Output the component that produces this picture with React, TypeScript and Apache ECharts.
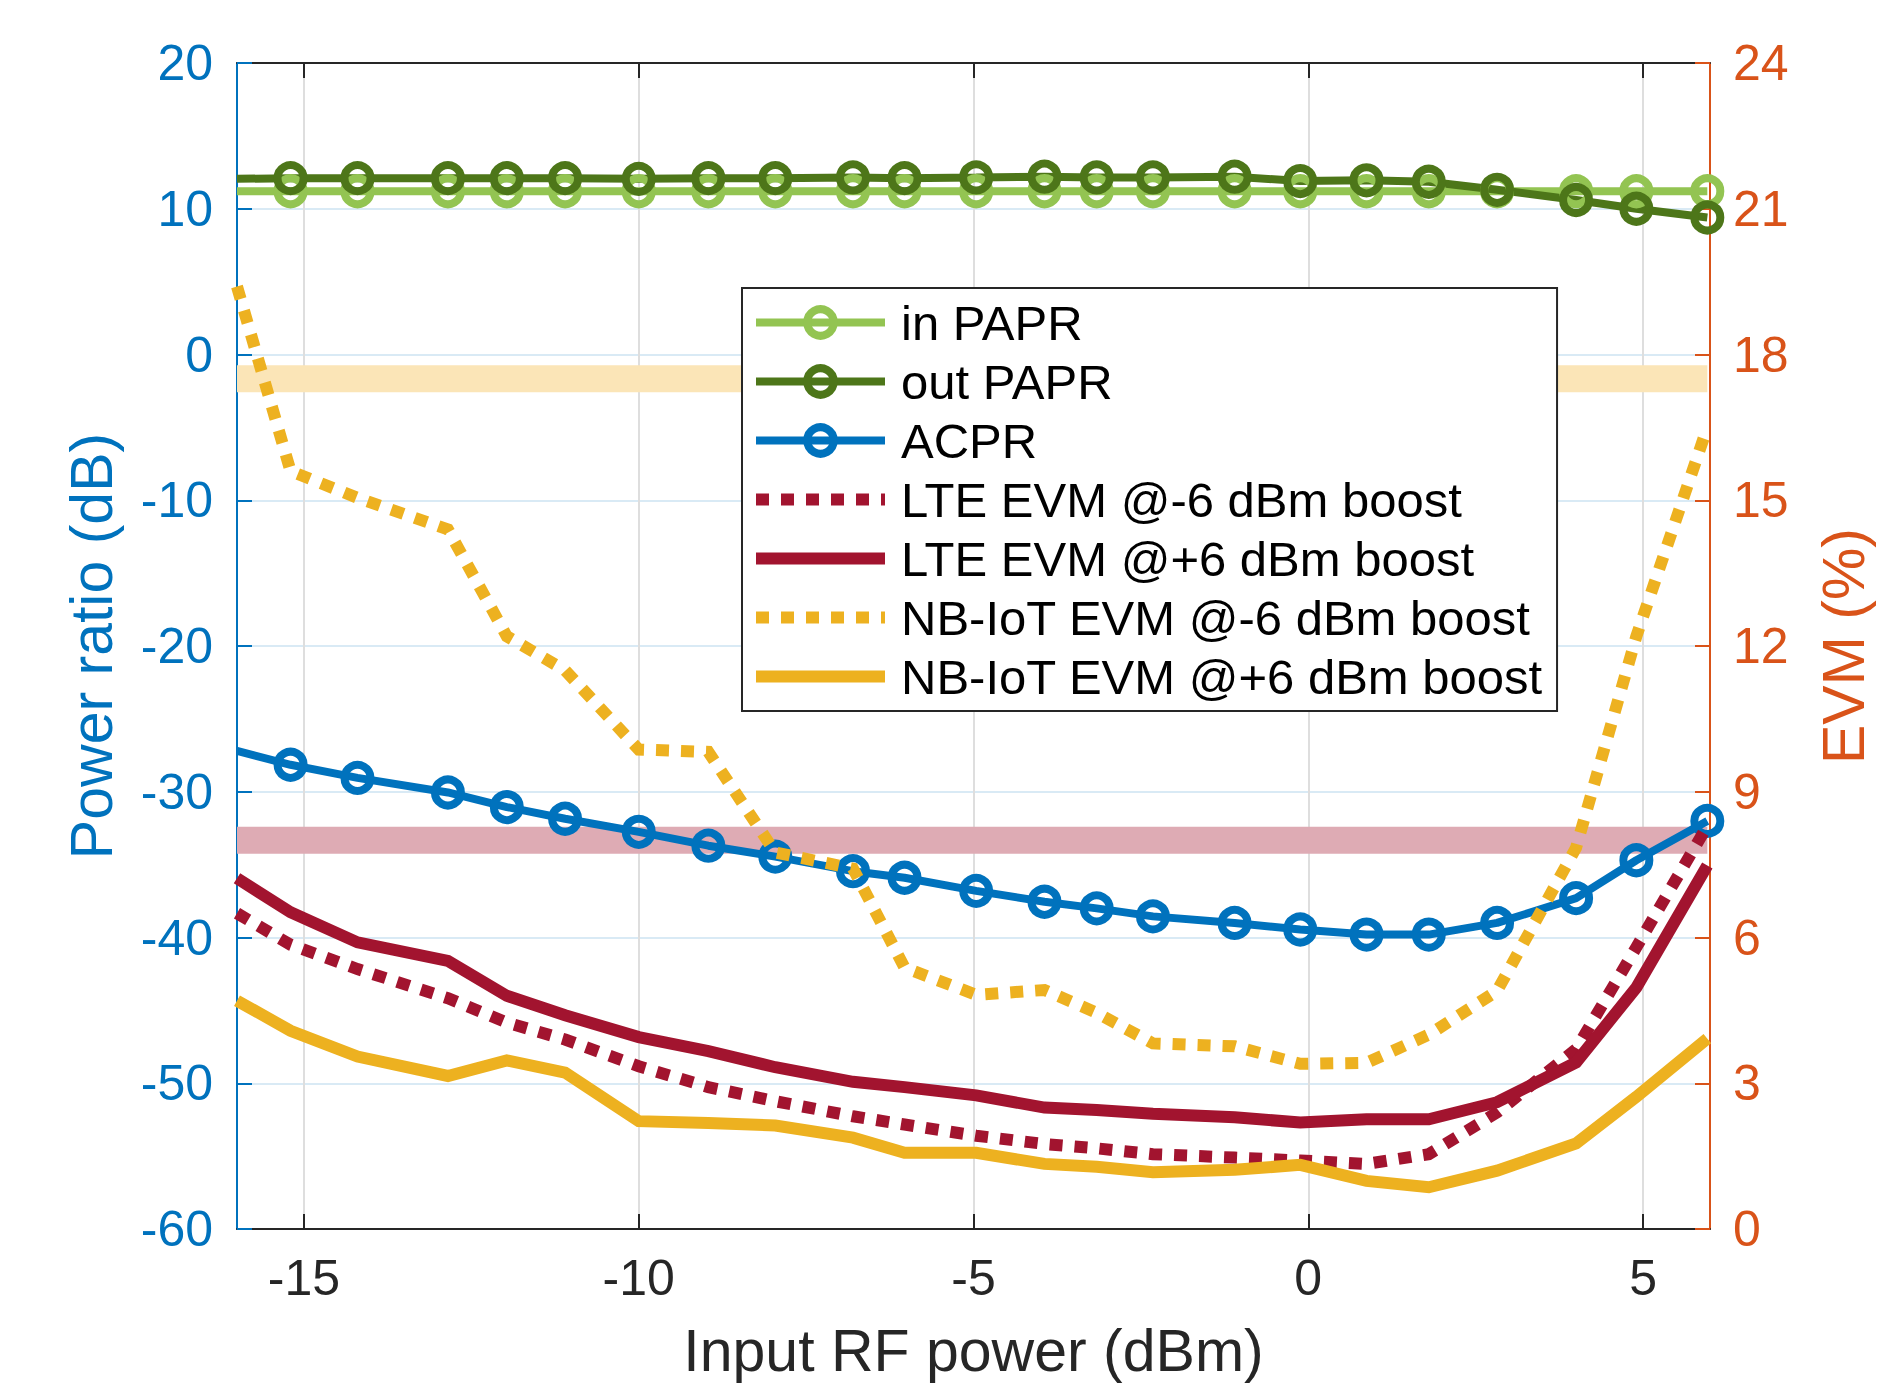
import React, { useEffect, useRef } from 'react';
import * as echarts from 'echarts';

// Input RF power (dBm); first entry is the left edge of the plot
const inputPower = [-16, -15.2, -14.2, -12.85, -11.97, -11.1, -10.0, -8.96, -7.96, -6.8, -6.03, -4.96, -3.94, -3.16, -2.32, -1.1, -0.12, 0.87, 1.8, 2.82, 4.0, 4.9, 5.96];

// Power ratio (dB)
const inPAPR = [11.2, 11.2, 11.2, 11.2, 11.2, 11.2, 11.2, 11.2, 11.2, 11.2, 11.2, 11.2, 11.2, 11.2, 11.2, 11.2, 11.2, 11.2, 11.2, 11.2, 11.2, 11.2, 11.2];
const outPAPR = [12.05, 12.1, 12.1, 12.1, 12.1, 12.1, 12.05, 12.1, 12.1, 12.15, 12.1, 12.15, 12.2, 12.15, 12.15, 12.2, 11.9, 11.95, 11.85, 11.3, 10.6, 10.0, 9.4];
const acpr = [-27.2, -28.15, -29.05, -30.05, -31.05, -31.85, -32.75, -33.7, -34.45, -35.45, -35.9, -36.8, -37.55, -38.0, -38.55, -39.0, -39.45, -39.8, -39.8, -39.0, -37.3, -34.7, -32.0];

// EVM (%)
const lteEvmMinus6 = [6.5, 5.85, 5.35, 4.75, 4.25, 3.9, 3.35, 2.92, 2.63, 2.32, 2.15, 1.92, 1.75, 1.66, 1.54, 1.47, 1.41, 1.34, 1.54, 2.4, 3.7, 5.8, 8.3];
const lteEvmPlus6 = [7.22, 6.52, 5.9, 5.52, 4.8, 4.4, 3.95, 3.66, 3.33, 3.03, 2.92, 2.75, 2.5, 2.45, 2.37, 2.3, 2.19, 2.26, 2.26, 2.61, 3.43, 4.97, 7.48];
const nbEvmMinus6 = [19.4, 15.6, 15.05, 14.4, 12.2, 11.5, 9.87, 9.82, 7.75, 7.42, 5.38, 4.82, 4.92, 4.45, 3.82, 3.76, 3.4, 3.42, 4.0, 4.9, 7.85, 12.2, 16.5];
const nbEvmPlus6 = [4.7, 4.08, 3.55, 3.15, 3.47, 3.22, 2.22, 2.18, 2.13, 1.88, 1.57, 1.57, 1.34, 1.28, 1.17, 1.22, 1.32, 0.99, 0.86, 1.2, 1.76, 2.72, 3.92];

// EVM limits (%)
const limitX = [-16, 5.96];
const lteEvmLimit = 8;
const nbEvmLimit = 17.5;

const xTicks = [-15, -10, -5, 0, 5];

const seriesNames = [
  'in PAPR',
  'out PAPR',
  'ACPR',
  'LTE EVM @-6 dBm boost',
  'LTE EVM @+6 dBm boost',
  'NB-IoT EVM @-6 dBm boost',
  'NB-IoT EVM @+6 dBm boost',
];

const FONT = 'Liberation Sans, Arial, Helvetica, sans-serif';
const BLUE = '#0072BD';
const ORANGE = '#D95319';
const RED = '#A2142F';
const YELLOW = '#EDB120';
const LGREEN = '#93C452';
const DGREEN = '#4D7619';
const DARK = '#262626';

function markerData(values: number[]) {
  return inputPower.map((x, i) =>
    i === 0 ? { value: [x, values[i]], symbol: 'none' } : [x, values[i]]
  );
}

function lineData(values: number[]) {
  return inputPower.map((x, i) => [x, values[i]]);
}

function markerSeries(name: string, values: number[], color: string) {
  return {
    name,
    type: 'line',
    yAxisIndex: 0,
    data: markerData(values),
    symbol: 'circle',
    symbolSize: 26,
    showSymbol: true,
    lineStyle: { color, width: 8 },
    itemStyle: { color: 'rgba(255,255,255,0)', borderColor: color, borderWidth: 8 },
    emphasis: { disabled: true },
    z: 2,
  };
}

function evmSeries(name: string, values: number[], color: string, dotted: boolean) {
  return {
    name,
    type: 'line',
    yAxisIndex: 1,
    data: lineData(values),
    symbol: 'none',
    showSymbol: false,
    lineStyle: { color, width: 12, type: dotted ? [13, 12] : 'solid', cap: 'butt', join: 'miter' },
    itemStyle: { color },
    emphasis: { disabled: true },
    z: 3,
  };
}

function bandSeries(value: number, color: string) {
  return {
    type: 'line',
    yAxisIndex: 1,
    data: limitX.map((x) => [x, value]),
    symbol: 'none',
    silent: true,
    lineStyle: { color, width: 27, cap: 'butt' },
    itemStyle: { color },
    emphasis: { disabled: true },
    z: 1,
  };
}

const legendData = seriesNames.map((name, i) =>
  i < 3
    ? { name }
    : { name, itemStyle: { color: 'rgba(0,0,0,0)', borderWidth: 0, opacity: 0 } }
);

export default function App() {
  const ref = useRef<HTMLDivElement>(null);

  useEffect(() => {
    if (!ref.current) return;
    const chart = echarts.init(ref.current, undefined, { renderer: 'svg' });
    const option: any = {
      animation: false,
      backgroundColor: '#ffffff',
      textStyle: { fontFamily: FONT },
      grid: { left: 237, top: 63, width: 1473, height: 1167, containLabel: false },
      legend: {
        data: legendData,
        orient: 'vertical',
        left: 742,
        top: 288,
        padding: [10, 14, 10, 8],
        itemGap: 10,
        itemWidth: 129,
        itemHeight: 33,
        backgroundColor: '#ffffff',
        borderColor: DARK,
        borderWidth: 2,
        borderRadius: 0,
        selectedMode: false,
        lineStyle: { width: 'inherit', type: 'inherit' },
        itemStyle: { borderWidth: 'inherit' },
        textStyle: { fontSize: 49, lineHeight: 49, color: '#000000', fontFamily: FONT, padding: [0, 0, 0, 11] },
      },
      xAxis: [
        {
          type: 'value',
          position: 'bottom',
          min: -16,
          max: 6,
          name: 'Input RF power (dBm)',
          nameLocation: 'middle',
          nameGap: 92,
          nameTextStyle: { fontSize: 59, color: DARK, fontFamily: FONT },
          axisLine: { show: true, onZero: false, lineStyle: { color: DARK, width: 2 } },
          axisTick: { show: true, inside: true, length: 15, customValues: xTicks, lineStyle: { color: DARK, width: 2 } },
          axisLabel: { show: true, customValues: xTicks, fontSize: 50, color: DARK, margin: 24, fontFamily: FONT },
          splitLine: { show: true, lineStyle: { color: '#DEDEDE', width: 2 } },
        },
        {
          type: 'value',
          position: 'top',
          min: -16,
          max: 6,
          axisLine: { show: true, onZero: false, lineStyle: { color: DARK, width: 2 } },
          axisTick: { show: true, inside: true, length: 15, customValues: xTicks, lineStyle: { color: DARK, width: 2 } },
          axisLabel: { show: false },
          splitLine: { show: false },
        },
      ],
      yAxis: [
        {
          type: 'value',
          position: 'left',
          min: -60,
          max: 20,
          interval: 10,
          name: 'Power ratio (dB)',
          nameLocation: 'middle',
          nameRotate: 90,
          nameGap: 116,
          nameTextStyle: { fontSize: 59, color: BLUE, fontFamily: FONT },
          axisLine: { show: true, onZero: false, lineStyle: { color: BLUE, width: 2 } },
          axisTick: { show: true, inside: true, length: 15, lineStyle: { color: BLUE, width: 2 } },
          axisLabel: { fontSize: 50, color: BLUE, margin: 24, fontFamily: FONT },
          splitLine: { show: true, lineStyle: { color: '#D9EAF5', width: 2 } },
        },
        {
          type: 'value',
          position: 'right',
          min: 0,
          max: 24,
          interval: 3,
          name: 'EVM (%)',
          nameLocation: 'middle',
          nameRotate: 90,
          nameGap: 104,
          nameTextStyle: { fontSize: 59, color: ORANGE, fontFamily: FONT },
          axisLine: { show: true, onZero: false, lineStyle: { color: ORANGE, width: 2 } },
          axisTick: { show: true, inside: true, length: 15, lineStyle: { color: ORANGE, width: 2 } },
          axisLabel: { fontSize: 50, color: ORANGE, margin: 23, fontFamily: FONT },
          splitLine: { show: false },
        },
      ],
      series: [
        bandSeries(nbEvmLimit, '#FBE5B7'),
        bandSeries(lteEvmLimit, '#DEABB4'),
        markerSeries(seriesNames[0], inPAPR, LGREEN),
        markerSeries(seriesNames[1], outPAPR, DGREEN),
        markerSeries(seriesNames[2], acpr, BLUE),
        evmSeries(seriesNames[3], lteEvmMinus6, RED, true),
        evmSeries(seriesNames[4], lteEvmPlus6, RED, false),
        evmSeries(seriesNames[5], nbEvmMinus6, YELLOW, true),
        evmSeries(seriesNames[6], nbEvmPlus6, YELLOW, false),
      ],
    };
    chart.setOption(option);
    return () => chart.dispose();
  }, []);

  return (
    <div
      ref={ref}
      style={{ position: 'absolute', left: 0, top: 0, width: 1896, height: 1385 }}
    />
  );
}
